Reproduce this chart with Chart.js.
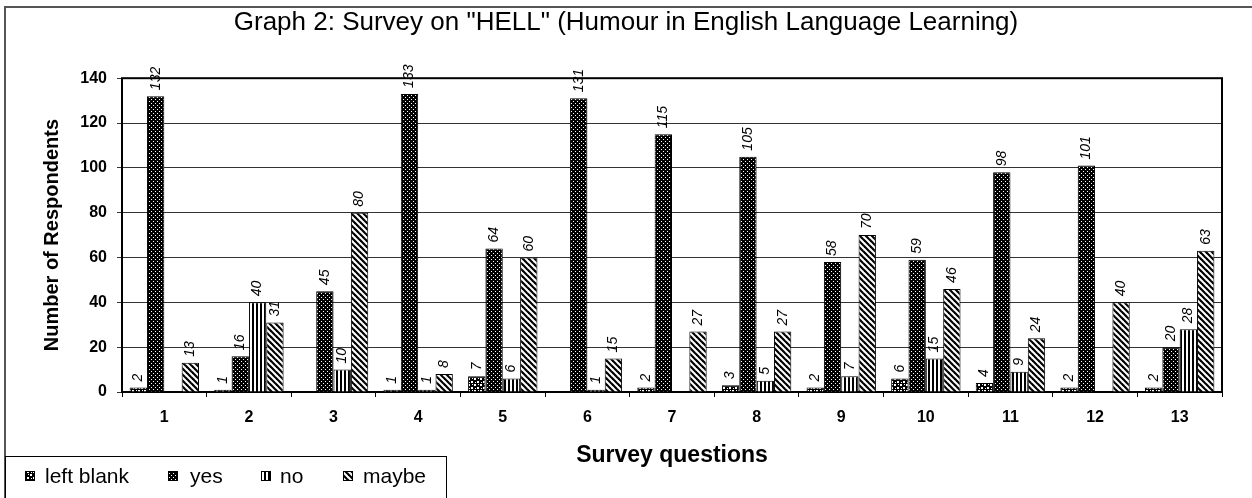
<!DOCTYPE html>
<html>
<head>
<meta charset="utf-8">
<script src="https://cdn.jsdelivr.net/npm/chart.js"></script>
<style>
  body { margin: 0; background: #fff; }
  canvas { display: block; }
</style>
</head>
<body>
<canvas id="grafica" width="1252" height="498"></canvas>
<script>
// datos
const preguntas = ["1", "2", "3", "4", "5", "6", "7", "8", "9", "10", "11", "12", "13"];
const leftBlank = [2, 1, null, 1, 7, null, 2, 3, 2, 6, 4, 2, 2];
const yes = [132, 16, 45, 133, 64, 131, 115, 105, 58, 59, 98, 101, 20];
const no = [null, 40, 10, 1, 6, 1, null, 5, 7, 15, 9, null, 28];
const maybe = [13, 31, 80, 8, 60, 15, 27, 27, 70, 46, 24, 40, 63];
const yTicks = [0, 20, 40, 60, 80, 100, 120, 140];

const fuente = "'Liberation Sans', Arial, sans-serif";
Chart.defaults.font.family = fuente;
Chart.defaults.color = "#000";

// tramas en blanco y negro
function trama(size, dibujar) {
  const c = document.createElement("canvas");
  c.width = size; c.height = size;
  const g = c.getContext("2d");
  g.fillStyle = "#fff";
  g.fillRect(0, 0, size, size);
  g.fillStyle = "#000";
  g.strokeStyle = "#000";
  dibujar(g);
  return document.createElement("canvas").getContext("2d").createPattern(c, "repeat");
}

const pBlank = trama(6, g => {
  g.fillRect(0, 0, 6, 6);
  g.fillStyle = "#fff";
  g.fillRect(0, 0, 2, 2);
  g.fillRect(3, 3, 2, 2);
  g.fillRect(4, 0, 1, 1);
  g.fillRect(1, 4, 1, 1);
});
const pYes = trama(4, g => {
  g.fillRect(0, 0, 4, 4);
  g.fillStyle = "#fff";
  g.fillRect(1, 1, 1, 1);
  g.fillRect(3, 3, 1, 1);
});
const pNo = trama(4, g => {
  g.fillRect(0, 0, 2, 4);
});
const pMaybe = trama(6, g => {
  g.lineWidth = 2.2;
  for (let k = -1; k <= 1; k++) {
    g.beginPath();
    g.moveTo(-1, -1 + k * 6);
    g.lineTo(7, 7 + k * 6);
    g.stroke();
  }
});

// marco, etiquetas y leyenda
const extras = {
  id: "extras",
  beforeDraw(chart) {
    const ctx = chart.ctx;
    ctx.save();
    ctx.fillStyle = "#fff";
    ctx.fillRect(0, 0, chart.width, chart.height);
    ctx.strokeStyle = "#555";
    ctx.lineWidth = 2;
    ctx.strokeRect(5, 7, chart.width + 20, chart.height + 20);
    ctx.restore();
  },
  beforeDatasetsDraw(chart) {
    const ctx = chart.ctx, a = chart.chartArea;
    ctx.save();
    ctx.strokeStyle = "#000";
    ctx.lineWidth = 2;
    ctx.strokeRect(a.left, a.top, a.right - a.left, a.bottom - a.top);
    ctx.restore();
  },
  afterDatasetsDraw(chart) {
    const ctx = chart.ctx;
    ctx.save();
    ctx.font = "italic 14px " + fuente;
    ctx.fillStyle = "#000";
    ctx.textAlign = "left";
    ctx.textBaseline = "middle";
    chart.data.datasets.forEach((ds, i) => {
      chart.getDatasetMeta(i).data.forEach((bar, j) => {
        const v = ds.data[j];
        if (v === null) return;
        ctx.save();
        ctx.translate(bar.x, bar.y - 6);
        ctx.rotate(-Math.PI / 2);
        ctx.fillText(String(v), 0, 0);
        ctx.restore();
      });
    });
    ctx.restore();
  },
  afterDraw(chart) {
    const ctx = chart.ctx;
    ctx.save();
    ctx.strokeStyle = "#000";
    ctx.lineWidth = 1;
    ctx.fillStyle = "#fff";
    ctx.fillRect(5.5, 456.5, 441, 60);
    ctx.strokeRect(5.5, 456.5, 441, 60);
    const xs = [[25, 45], [168, 190], [261, 280], [343, 363]];
    ctx.font = "21px " + fuente;
    ctx.textBaseline = "middle";
    chart.data.datasets.forEach((ds, i) => {
      const [mx, tx] = xs[i];
      ctx.fillStyle = ds.backgroundColor;
      ctx.fillRect(mx, 471, 10, 10);
      ctx.strokeRect(mx + 0.5, 471.5, 9, 9);
      ctx.fillStyle = "#000";
      ctx.fillText(ds.label, tx, 477);
    });
    ctx.restore();
  }
};

new Chart(document.querySelector("#grafica").getContext("2d"), {
  type: "bar",
  data: {
    labels: preguntas,
    datasets: [
      { label: "left blank", data: leftBlank, backgroundColor: pBlank },
      { label: "yes", data: yes, backgroundColor: pYes },
      { label: "no", data: no, backgroundColor: pNo },
      { label: "maybe", data: maybe, backgroundColor: pMaybe }
    ].map(d => Object.assign(d, {
      borderColor: "#000",
      borderWidth: 1,
      categoryPercentage: 0.82,
      barPercentage: 1.0
    }))
  },
  options: {
    responsive: false,
    devicePixelRatio: 1,
    animation: false,
    layout: { padding: 0 },
    plugins: {
      legend: { display: false },
      tooltip: { enabled: false },
      title: {
        display: true,
        text: 'Graph 2: Survey on "HELL" (Humour in English Language Learning)',
        font: { size: 26, weight: "normal" },
        color: "#000",
        padding: { top: 7, bottom: 40 }
      }
    },
    scales: {
      x: {
        grid: { drawOnChartArea: false, tickLength: 5, color: "#000" },
        border: { display: false },
        ticks: { font: { size: 16, weight: "bold" }, padding: 11, maxRotation: 0 },
        title: {
          display: true,
          text: "Survey questions",
          font: { size: 23, weight: "bold" },
          padding: { top: 0, bottom: 29 }
        },
        afterFit: s => { s.height = 106; }
      },
      y: {
        min: 0,
        max: 140,
        afterBuildTicks: s => { s.ticks = yTicks.map(v => ({ value: v })); },
        grid: { color: "#333", tickLength: 5 },
        border: { display: false },
        ticks: { font: { size: 16, weight: "bold" }, padding: 10 },
        title: {
          display: true,
          text: "Number of Respondents",
          font: { size: 20, weight: "bold" },
          padding: { top: 40, bottom: 0 }
        },
        afterFit: s => { s.width = 122; }
      },
      y2: {
        position: "right",
        grid: { display: false },
        border: { display: false },
        ticks: { display: false },
        afterFit: s => { s.width = 30; }
      }
    }
  },
  plugins: [extras]
});
</script>
</body>
</html>
